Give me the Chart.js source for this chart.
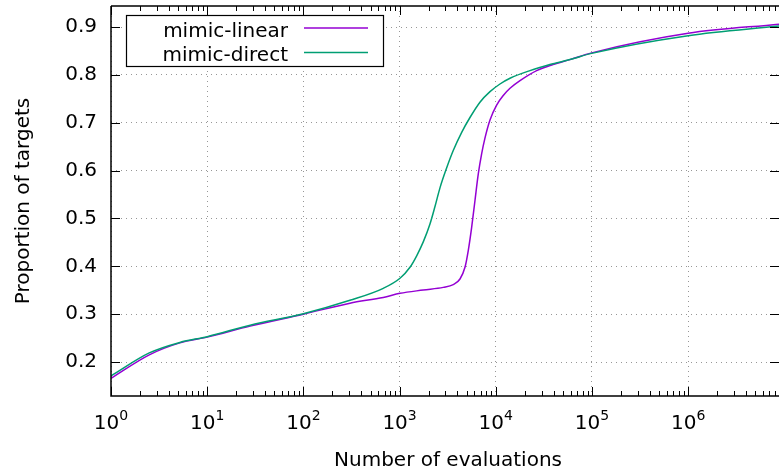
<!DOCTYPE html>
<html>
<head>
<meta charset="utf-8">
<script src="https://cdn.jsdelivr.net/npm/chart.js@4/dist/chart.umd.min.js"></script>
<style>
  html, body { margin: 0; padding: 0; background: #fff; overflow: hidden; }
  #wrap { width: 779px; height: 474px; position: relative; }
</style>
</head>
<body>
<div id="wrap"><canvas id="chart"></canvas></div>
<script>
// Données
const seriesNames = ['mimic-linear', 'mimic-direct'];
const seriesColors = ['#9400d3', '#009e73'];

const linearEvals = [1, 2.5, 5.2, 10, 28, 100, 305, 677, 1010, 1763, 2845, 3614, 4246, 4786, 5177, 5615, 6076, 6581, 7129, 7720, 8710, 10210, 11970, 14060, 17860, 26610, 39340, 59000, 99300, 1e6, 8.8e6];
const linearProp  = [0.166, 0.215, 0.240, 0.252, 0.275, 0.300, 0.323, 0.335, 0.3435, 0.3505, 0.356, 0.3617, 0.3735, 0.398, 0.433, 0.4815, 0.537, 0.593, 0.635, 0.668, 0.706, 0.737, 0.757, 0.772, 0.788, 0.809, 0.8216, 0.832, 0.846, 0.887, 0.906];

const directEvals = [1, 2.5, 5.2, 10, 28, 100, 305, 677, 1010, 1283, 1506, 1763, 2070, 2334, 2630, 3090, 3614, 4423, 5393, 6849, 8710, 11060, 14060, 22660, 36560, 59000, 99300, 1e6, 8.8e6];
const directProp  = [0.171, 0.219, 0.241, 0.253, 0.277, 0.301, 0.329, 0.354, 0.375, 0.398, 0.422, 0.451, 0.4885, 0.525, 0.564, 0.606, 0.642, 0.680, 0.711, 0.743, 0.765, 0.781, 0.793, 0.809, 0.8216, 0.832, 0.845, 0.882, 0.902];

const xTicks = [1, 10, 100, 1e3, 1e4, 1e5, 1e6];
const xExponents = ['0', '1', '2', '3', '4', '5', '6'];
const yTicks = [0.2, 0.3, 0.4, 0.5, 0.6, 0.7, 0.8, 0.9];

const FONT = "'DejaVu Sans', sans-serif";

function toPoints(xs, ys) {
  return xs.map((x, i) => ({ x: x, y: ys[i] }));
}

// Cadre, graduations, libellés et légende à la gnuplot
const gnuplotDecor = {
  id: 'gnuplotDecor',
  afterDraw(chart) {
    const ctx = chart.ctx;
    const area = chart.chartArea;
    const xs = chart.scales.x;
    const ys = chart.scales.y;
    ctx.save();

    // cadre
    ctx.strokeStyle = '#000';
    ctx.lineWidth = 1.5;
    ctx.beginPath();
    ctx.moveTo(area.left, area.top);
    ctx.lineTo(area.right, area.top);
    ctx.moveTo(area.left, area.top);
    ctx.lineTo(area.left, area.bottom);
    ctx.lineTo(area.right, area.bottom);
    ctx.stroke();

    // graduations x (majeures + mineures, en miroir)
    ctx.lineWidth = 1;
    ctx.beginPath();
    xTicks.forEach(d => {
      const px = Math.round(xs.getPixelForValue(d)) + 0.5;
      ctx.moveTo(px, area.bottom); ctx.lineTo(px, area.bottom - 9);
      ctx.moveTo(px, area.top); ctx.lineTo(px, area.top + 9);
      for (let k = 2; k <= 9; k++) {
        const v = d * k;
        if (v > xs.max) break;
        const mx = Math.round(xs.getPixelForValue(v)) + 0.5;
        ctx.moveTo(mx, area.bottom); ctx.lineTo(mx, area.bottom - 5);
        ctx.moveTo(mx, area.top); ctx.lineTo(mx, area.top + 5);
      }
    });
    // graduations y
    yTicks.forEach(v => {
      const py = Math.round(ys.getPixelForValue(v)) + 0.5;
      ctx.moveTo(area.left, py); ctx.lineTo(area.left + 9, py);
      ctx.moveTo(area.right, py); ctx.lineTo(area.right - 9, py);
    });
    ctx.stroke();

    // libellés x : 10 puissance n
    ctx.fillStyle = '#000';
    ctx.textBaseline = 'alphabetic';
    xTicks.forEach((d, i) => {
      const px = xs.getPixelForValue(d);
      ctx.font = '20px ' + FONT;
      const wBase = ctx.measureText('10').width;
      ctx.font = '14px ' + FONT;
      const wExp = ctx.measureText(xExponents[i]).width;
      const x0 = px - (wBase + wExp) / 2;
      ctx.font = '20px ' + FONT;
      ctx.textAlign = 'left';
      ctx.fillText('10', x0, 429);
      ctx.font = '14px ' + FONT;
      ctx.fillText(xExponents[i], x0 + wBase, 420);
    });

    // titres des axes
    ctx.font = '20px ' + FONT;
    ctx.textAlign = 'center';
    ctx.fillText('Number of evaluations', (area.left + 785) / 2, 466);
    ctx.save();
    ctx.translate(29, 201);
    ctx.rotate(-Math.PI / 2);
    ctx.fillText('Proportion of targets', 0, 0);
    ctx.restore();

    // légende
    const box = { x: 126.5, y: 15.5, w: 257, h: 51 };
    ctx.fillStyle = '#fff';
    ctx.fillRect(box.x, box.y, box.w, box.h);
    ctx.strokeStyle = '#000';
    ctx.lineWidth = 1.2;
    ctx.strokeRect(box.x, box.y, box.w, box.h);
    ctx.textAlign = 'right';
    ctx.font = '20px ' + FONT;
    chart.data.datasets.forEach((ds, i) => {
      const base = 36.5 + i * 24.5;
      ctx.fillStyle = '#000';
      ctx.fillText(ds.label, 288, base);
      ctx.strokeStyle = ds.borderColor;
      ctx.lineWidth = 1.5;
      ctx.beginPath();
      ctx.moveTo(304, base - 8.5);
      ctx.lineTo(368, base - 8.5);
      ctx.stroke();
    });

    ctx.restore();
  }
};

const gridStyle = { color: 'rgba(140,140,140,0.9)', lineWidth: 1, drawTicks: false };

new Chart(document.getElementById('chart'), {
  type: 'line',
  data: {
    datasets: [
      {
        label: seriesNames[0],
        data: toPoints(linearEvals, linearProp),
        borderColor: seriesColors[0],
        borderWidth: 1.5,
        pointRadius: 0,
        cubicInterpolationMode: 'monotone',
        order: 1
      },
      {
        label: seriesNames[1],
        data: toPoints(directEvals, directProp),
        borderColor: seriesColors[1],
        borderWidth: 1.5,
        pointRadius: 0,
        cubicInterpolationMode: 'monotone',
        order: 0
      }
    ]
  },
  options: {
    responsive: true,
    maintainAspectRatio: false,
    animation: false,
    devicePixelRatio: 1,
    layout: { padding: { top: 6, right: 0, left: 0, bottom: 0 } },
    plugins: {
      legend: { display: false },
      tooltip: { enabled: false }
    },
    scales: {
      x: {
        type: 'logarithmic',
        min: 1,
        max: 8.8e6,
        afterBuildTicks: s => { s.ticks = xTicks.map(v => ({ value: v })); },
        afterFit: s => { s.height = 78; s.paddingLeft = 0; s.paddingRight = 0; },
        ticks: { display: false },
        grid: gridStyle,
        border: { display: false, dash: [1, 4] }
      },
      y: {
        type: 'linear',
        min: 0.129,
        max: 0.944,
        afterBuildTicks: s => { s.ticks = yTicks.map(v => ({ value: v })); },
        afterFit: s => { s.width = 111; s.paddingTop = 0; s.paddingBottom = 0; },
        ticks: {
          color: '#000',
          padding: 14,
          font: { family: FONT, size: 20 },
          callback: v => v.toFixed(1)
        },
        grid: gridStyle,
        border: { display: false, dash: [1, 4] }
      }
    }
  },
  plugins: [gnuplotDecor]
});
</script>
</body>
</html>
